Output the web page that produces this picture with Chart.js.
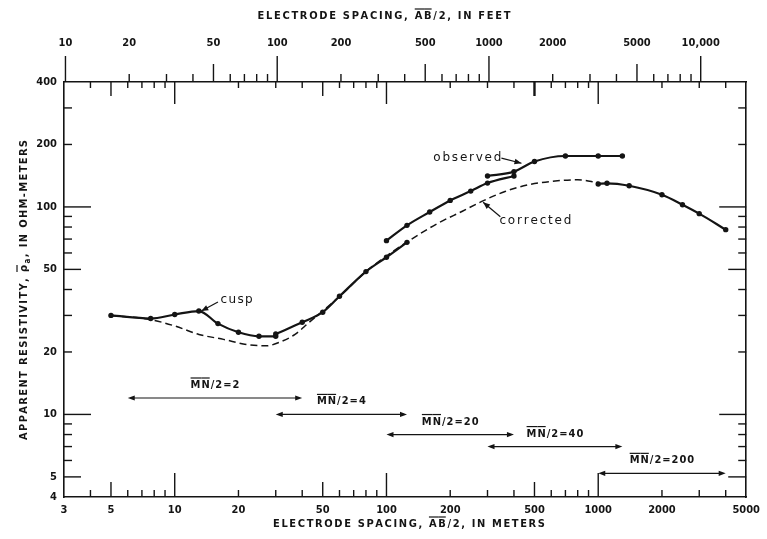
<!DOCTYPE html>
<html><head><meta charset="utf-8">
<script src="https://cdn.jsdelivr.net/npm/chart.js@4/dist/chart.umd.min.js"></script>
<style>html,body{margin:0;padding:0;background:#fff;}canvas{display:block;}</style>
</head><body>
<canvas id="c" width="767" height="539"></canvas>
<script>
// ---------------- DATA ----------------
// Observed apparent resistivity, one segment per MN/2 spacing
const segA_ab = [5, 7.7, 10, 13, 16, 20, 25, 30];            // MN/2 = 2
const segA_rho = [30.0, 29.0, 30.3, 31.5, 27.4, 24.9, 23.8, 23.8];
const segB_ab = [30, 40, 50, 60, 80, 100, 125];               // MN/2 = 4
const segB_rho = [24.4, 27.8, 31.1, 37.1, 48.8, 57.2, 67.5];
const segC_ab = [100, 125, 160, 200, 250, 300, 400];          // MN/2 = 20
const segC_rho = [68.8, 81.5, 94.5, 107.5, 119.2, 130.3, 141];
const segD_ab = [300, 400, 500, 700, 1000, 1300];             // MN/2 = 40
const segD_rho = [141, 148, 165.5, 176, 176, 176];
const segE_ab = [1000, 1100, 1400, 2000, 2500, 3000, 4000];   // MN/2 = 200
const segE_rho = [129, 130, 126.5, 114.5, 102.5, 92.8, 77.7];
// Corrected curve
const corr_ab = [5, 7.6, 10, 13, 17, 22, 27, 31, 37, 43, 60, 80, 100, 130, 176, 227, 282, 363, 468, 600, 800, 1000];
const corr_rho = [30, 28.7, 26.7, 24.3, 23.0, 21.7, 21.4, 22.2, 24.3, 27.7, 37, 48.8, 58, 69.5, 83.7, 95.1, 106.3, 118.7, 127.9, 132.7, 135.2, 131];
// MN/2 spacing ranges
const mnValues = ['2', '4', '20', '40', '200'];
const mnFrom = [6, 30, 100, 300, 1000];
const mnTo = [40, 125, 400, 1300, 4000];
// Tick labels
const meterLabels = [3, 5, 10, 20, 50, 100, 200, 500, 1000, 2000, 5000];
const feetLabels = [10, 20, 50, 100, 200, 500, 1000, 2000, 5000, 10000];
const feetLabelText = ['10', '20', '50', '100', '200', '500', '1000', '2000', '5000', '10,000'];
const rhoLabels = [4, 5, 10, 20, 50, 100, 200, 400];
const meterMarks = [4,5,6,7,8,9,10,20,30,40,50,60,70,80,90,100,200,300,400,500,600,700,800,900,1000,2000,3000,4000];
const feetMarks = [10,20,30,40,50,60,70,80,90,100,200,300,400,500,600,700,800,900,1000,2000,3000,4000,5000,6000,7000,8000,9000,10000];
const rhoMarks = [5,6,7,8,9,10,20,30,40,50,60,70,80,90,100,200,300];
const FT = 0.3048;

// ---------------- ANNOTATION PLACEMENT (data units) ----------------
const mnRho = [12, 10, 8, 7, 5.2];
const notes = [
  {t: 'cusp', at: [19.6, 35.8], w: 32, from: [16.0, 34.8], to: [13.35, 31.5]},
  {t: 'observed', at: [241, 172.4], w: 68, from: [349, 171.8], to: [434, 162.3]},
  {t: 'corrected', at: [505, 85.8], w: 72, from: [345, 89.7], to: [286, 105.3]}
];

// ---------------- STYLE ----------------
const INK = '#141414';
const FAM = '"DejaVu Sans Condensed", "DejaVu Sans", sans-serif';
const BOLD11 = 'bold 11px ' + FAM;

const pts = (xs, ys) => xs.map((x, i) => ({x: x, y: ys[i]}));
const obsStyle = {showLine: true, borderColor: INK, backgroundColor: INK, borderWidth: 2.2,
  pointRadius: 2.7, pointBackgroundColor: INK, pointBorderWidth: 0, cubicInterpolationMode: 'monotone', order: 1};

function drawRich(ctx, parts, cx, cy, opt) {
  const font = opt.font, sub = opt.subFont || font;
  const items = [];
  parts.forEach(p => { for (const ch of p.t) items.push({ch, over: !!p.over, sub: !!p.sub}); });
  items.forEach(it => { ctx.font = it.sub ? sub : font; it.w = ctx.measureText(it.ch).width; });
  const nat = items.reduce((s, it) => s + it.w, 0);
  let ls = opt.ls || 0;
  if (opt.target) ls = (opt.target - nat) / (items.length - 1);
  const total = nat + ls * (items.length - 1);
  let x = cx - total / 2;
  const capH = opt.capH;
  const base = cy + capH / 2;
  ctx.textAlign = 'left'; ctx.textBaseline = 'alphabetic';
  items.forEach((it, i) => {
    ctx.font = it.sub ? sub : font;
    ctx.fillText(it.ch, x, it.sub ? base + 2.5 : base);
    if (it.over) {
      const nxt = items[i + 1];
      const ext = (nxt && nxt.over) ? ls : 0;
      ctx.lineWidth = 1.2;
      ctx.beginPath(); ctx.moveTo(x, base - capH - 2); ctx.lineTo(x + it.w + ext, base - capH - 2); ctx.stroke();
    }
    x += it.w + ls;
  });
}

function arrowHead(ctx, x1, y1, x2, y2, len, half) {
  const a = Math.atan2(y2 - y1, x2 - x1);
  ctx.beginPath();
  ctx.moveTo(x2, y2);
  ctx.lineTo(x2 - len * Math.cos(a) + half * Math.sin(a), y2 - len * Math.sin(a) - half * Math.cos(a));
  ctx.lineTo(x2 - len * Math.cos(a) - half * Math.sin(a), y2 - len * Math.sin(a) + half * Math.cos(a));
  ctx.closePath(); ctx.fill();
}

function markLen(v, L) {
  const e = Math.log10(v), r = Math.round(e);
  if (Math.abs(e - r) < 1e-9) return L[0];
  const m = v / Math.pow(10, Math.floor(e + 1e-9));
  if (Math.abs(m - 5) < 1e-6) return L[1];
  return L[2];
}

const overlay = {
  id: 'overlay',
  afterDraw(chart) {
    const {ctx, chartArea: a, scales} = chart;
    const xs = scales.x, ys = scales.y, fs = scales.x2;
    ctx.save();
    ctx.strokeStyle = INK; ctx.fillStyle = INK; ctx.lineWidth = 1.4;
    const line = (x1, y1, x2, y2) => { ctx.beginPath(); ctx.moveTo(x1, y1); ctx.lineTo(x2, y2); ctx.stroke(); };
    // inward / outward tick marks
    meterMarks.forEach(v => {
      const px = xs.getPixelForValue(v);
      line(px, a.bottom, px, a.bottom - markLen(v, [24, 15, 7]));
      ctx.lineWidth = (v === 500) ? 2.4 : 1.4;
      line(px, a.top, px, a.top + markLen(v, [22, 14, 6]));
      ctx.lineWidth = 1.4;
    });
    feetMarks.forEach(v => {
      const px = fs.getPixelForValue(v);
      line(px, a.top, px, a.top - markLen(v, [26, 18, 8]));
    });
    rhoMarks.forEach(v => {
      const py = ys.getPixelForValue(v);
      line(a.left, py, a.left + markLen(v, [27, 17, 8]), py);
      line(a.right, py, a.right - markLen(v, [27, 18, 8]), py);
    });
    // axis titles
    drawRich(ctx, [{t: 'ELECTRODE SPACING, '}, {t: 'AB', over: true}, {t: '/2, IN FEET'}], 384, 15, {font: BOLD11, capH: 8, target: 253});
    drawRich(ctx, [{t: 'ELECTRODE SPACING, '}, {t: 'AB', over: true}, {t: '/2, IN METERS'}], 409, 523, {font: BOLD11, capH: 8, target: 272});
    ctx.save();
    ctx.translate(23, 290); ctx.rotate(-Math.PI / 2);
    drawRich(ctx, [{t: 'APPARENT RESISTIVITY, '}, {t: 'ρ', over: true}, {t: 'a', sub: true}, {t: ', IN OHM-METERS'}], 0, 0,
      {font: BOLD11, subFont: 'bold 8px ' + FAM, capH: 8, target: 300});
    ctx.restore();
    // MN/2 range arrows
    ctx.lineWidth = 1.1;
    mnValues.forEach((m, i) => {
      const x1 = xs.getPixelForValue(mnFrom[i]), x2 = xs.getPixelForValue(mnTo[i]);
      const y = ys.getPixelForValue(mnRho[i]);
      line(x1 + 3, y, x2 - 3, y);
      arrowHead(ctx, x1 + 10, y, x1, y, 7, 2.6);
      arrowHead(ctx, x2 - 10, y, x2, y, 7, 2.6);
      drawRich(ctx, [{t: 'MN', over: true}, {t: '/2=' + m}], (x1 + x2) / 2, y - 14, {font: BOLD11, capH: 8, ls: 1});
    });
    // curve notes
    notes.forEach(n => {
      const tx = xs.getPixelForValue(n.at[0]), ty = ys.getPixelForValue(n.at[1]);
      drawRich(ctx, [{t: n.t}], tx, ty, {font: '12px "DejaVu Sans", sans-serif', capH: 6.5, target: n.w});
      const fx = xs.getPixelForValue(n.from[0]), fy = ys.getPixelForValue(n.from[1]);
      const ex = xs.getPixelForValue(n.to[0]), ey = ys.getPixelForValue(n.to[1]);
      ctx.lineWidth = 1.2;
      line(fx, fy, ex, ey);
      arrowHead(ctx, fx, fy, ex, ey, 7, 2.8);
    });
    ctx.restore();
  }
};

const tickFont = {family: FAM, size: 11, weight: 'bold'};
new Chart(document.getElementById('c'), {
  type: 'scatter',
  data: {
    datasets: [
      {label: 'corrected', data: pts(corr_ab, corr_rho), showLine: true, borderColor: INK, borderWidth: 1.5,
        borderDash: [7, 4], pointRadius: 0, cubicInterpolationMode: 'monotone', order: 2},
      Object.assign({label: 'MN/2=2', data: pts(segA_ab, segA_rho)}, obsStyle),
      Object.assign({label: 'MN/2=4', data: pts(segB_ab, segB_rho)}, obsStyle),
      Object.assign({label: 'MN/2=20', data: pts(segC_ab, segC_rho)}, obsStyle),
      Object.assign({label: 'MN/2=40', data: pts(segD_ab, segD_rho)}, obsStyle),
      Object.assign({label: 'MN/2=200', data: pts(segE_ab, segE_rho)}, obsStyle)
    ]
  },
  options: {
    responsive: false, animation: false,
    layout: {padding: 0},
    plugins: {legend: {display: false}, tooltip: {enabled: false}},
    events: [],
    scales: {
      x: {type: 'logarithmic', position: 'bottom', min: 3, max: 5000,
        grid: {display: false, drawTicks: false}, border: {display: true, color: INK, width: 1.6},
        ticks: {autoSkip: false, maxRotation: 0, padding: 7, color: INK, font: tickFont,
          callback: (v) => String(v)},
        afterBuildTicks: s => { s.ticks = meterLabels.map(v => ({value: v})); },
        afterFit: s => { s.height = 42; }},
      x2: {type: 'logarithmic', position: 'top', min: 3 / FT, max: 5000 / FT,
        grid: {display: false, drawTicks: false}, border: {display: true, color: INK, width: 1.6},
        ticks: {autoSkip: false, maxRotation: 0, padding: 32, color: INK, font: tickFont,
          callback: (v, i) => feetLabelText[i]},
        afterBuildTicks: s => { s.ticks = feetLabels.map(v => ({value: v})); },
        afterFit: s => { s.height = 82; }},
      y: {type: 'logarithmic', position: 'left', min: 4, max: 400,
        grid: {display: false, drawTicks: false}, border: {display: true, color: INK, width: 1.6},
        ticks: {autoSkip: false, padding: 7, color: INK, font: tickFont, callback: (v) => String(v)},
        afterBuildTicks: s => { s.ticks = rhoLabels.map(v => ({value: v})); },
        afterFit: s => { s.width = 64; }},
      y2: {type: 'logarithmic', position: 'right', min: 4, max: 400,
        grid: {display: false, drawTicks: false}, border: {display: true, color: INK, width: 1.6},
        ticks: {display: false},
        afterFit: s => { s.width = 17; }}
    }
  },
  plugins: [overlay]
});
</script>
</body></html>
